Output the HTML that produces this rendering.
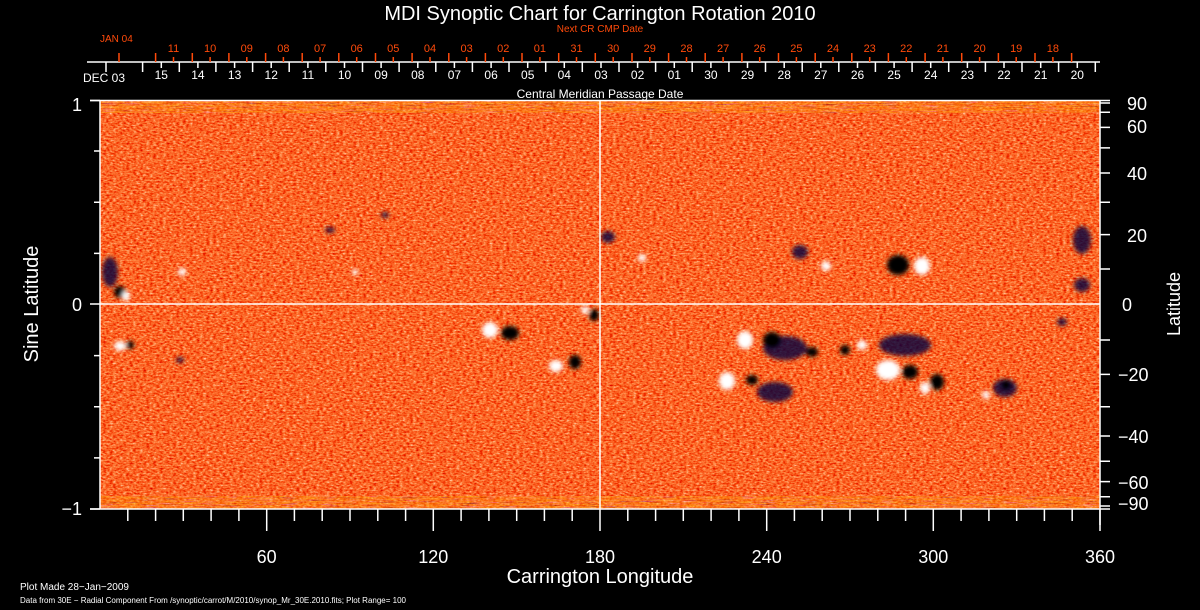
<!DOCTYPE html>
<html><head><meta charset="utf-8"><style>
html,body{margin:0;padding:0;background:#000;}
svg{display:block;}
text{font-family:"Liberation Sans",sans-serif;}
</style></head><body>
<svg width="1200" height="610" viewBox="0 0 1200 610" xmlns="http://www.w3.org/2000/svg">
<defs>
<filter id="n" x="0" y="0" width="100%" height="100%">
<feTurbulence type="fractalNoise" baseFrequency="0.3 0.6" numOctaves="2" seed="3"/>
<feColorMatrix type="matrix" values="1 0 0 0 0 1 0 0 0 0 1 0 0 0 0 0 0 0 0 1"/>
<feComponentTransfer>
<feFuncR type="table" tableValues="0.55 0.75 0.9 0.97 1 1 1"/>
<feFuncG type="table" tableValues="0 0 0.04 0.13 0.26 0.5 0.95"/>
<feFuncB type="table" tableValues="0 0 0 0.02 0.06 0.3 0.8"/>
<feFuncA type="table" tableValues="1 1"/>
</feComponentTransfer>
</filter>
<filter id="p" x="0" y="0" width="100%" height="100%">
<feTurbulence type="fractalNoise" baseFrequency="0.05 0.9" numOctaves="2" seed="7"/>
<feColorMatrix type="matrix" values="1 0 0 0 0 1 0 0 0 0 0 0 1 0 0 0 0 0 0 1"/>
<feComponentTransfer>
<feFuncR type="table" tableValues="0 0.1 1 1 1 1"/>
<feFuncG type="table" tableValues="0 0 0.2 0.4 0.8 1"/>
<feFuncB type="table" tableValues="0.8 0.6 0 0 0.1 0.6"/>
</feComponentTransfer>
</filter>
<filter id="b"><feGaussianBlur stdDeviation="2"/></filter>
</defs>
<rect x="100" y="100" width="1000" height="409" fill="#ee3c12"/>
<rect x="100" y="100" width="1000" height="409" filter="url(#n)"/>
<rect x="100" y="101" width="1000" height="12" filter="url(#p)" opacity="0.4"/>
<rect x="100" y="496" width="1000" height="13" filter="url(#p)" opacity="0.4"/>
<!-- active regions -->
<g filter="url(#b)">
<g fill="#000040" opacity="0.8">
<ellipse cx="110" cy="272" rx="8" ry="15"/>
<ellipse cx="330" cy="230" rx="5" ry="3"/><ellipse cx="385" cy="215" rx="4" ry="3"/>
<ellipse cx="608" cy="237" rx="7" ry="6"/>
<ellipse cx="785" cy="348" rx="22" ry="12"/><ellipse cx="775" cy="392" rx="18" ry="10"/>
<ellipse cx="800" cy="252" rx="8" ry="7"/>
<ellipse cx="905" cy="345" rx="26" ry="11"/>
<ellipse cx="1005" cy="388" rx="12" ry="9"/>
<ellipse cx="1082" cy="240" rx="9" ry="14"/><ellipse cx="1082" cy="285" rx="8" ry="7"/>
<ellipse cx="1062" cy="322" rx="5" ry="4"/>
<ellipse cx="180" cy="360" rx="4" ry="3"/>
</g>
<g fill="#000">
<ellipse cx="120" cy="292" rx="6" ry="6"/>
<ellipse cx="130" cy="345" rx="4" ry="4"/>
<ellipse cx="510" cy="333" rx="9" ry="7"/>
<ellipse cx="575" cy="362" rx="6" ry="7"/><ellipse cx="594" cy="315" rx="5" ry="6"/>
<ellipse cx="772" cy="340" rx="9" ry="8"/><ellipse cx="812" cy="352" rx="6" ry="5"/>
<ellipse cx="752" cy="380" rx="6" ry="5"/>
<ellipse cx="898" cy="265" rx="11" ry="10"/>
<ellipse cx="910" cy="372" rx="8" ry="7"/><ellipse cx="937" cy="382" rx="7" ry="8"/>
<ellipse cx="845" cy="350" rx="5" ry="5"/>
<ellipse cx="1006" cy="385" rx="5" ry="5"/>
</g>
<g fill="#fff">
<ellipse cx="126" cy="296" rx="4" ry="5"/>
<ellipse cx="120" cy="346" rx="6" ry="5"/>
<ellipse cx="182" cy="272" rx="4" ry="4"/><ellipse cx="355" cy="272" rx="3" ry="3"/>
<ellipse cx="490" cy="330" rx="8" ry="8"/>
<ellipse cx="556" cy="366" rx="7" ry="6"/><ellipse cx="585" cy="310" rx="4" ry="4"/>
<ellipse cx="642" cy="258" rx="4" ry="4"/>
<ellipse cx="745" cy="340" rx="8" ry="9"/><ellipse cx="727" cy="381" rx="8" ry="9"/>
<ellipse cx="826" cy="266" rx="5" ry="5"/>
<ellipse cx="922" cy="266" rx="8" ry="9"/>
<ellipse cx="888" cy="370" rx="12" ry="10"/><ellipse cx="862" cy="345" rx="5" ry="5"/>
<ellipse cx="925" cy="388" rx="5" ry="6"/>
<ellipse cx="986" cy="395" rx="4" ry="4"/>
</g>
</g>
<!-- grid / frame -->
<g stroke="#fff" stroke-width="1.5" fill="none">
<path d="M90 100.5H1110M90 509H1110M100 100V509M1100 100V525M600 100V509M100 304H1100"/>
<path d="M90 100.5h10M90 304h10M90 509h10M94 151h6M94 202.3h6M94 253.4h6M94 355.6h6M94 406.8h6M94 457.9h6"/>
<path d="M1100 103h10M1100 112.3h10M1100 127.4h10M1100 147.9h10M1100 173h10M1100 202.3h10M1100 234.6h10M1100 269h10M1100 340h10M1100 374.4h10M1100 406.8h10M1100 436h10M1100 461.2h10M1100 481.6h10M1100 496.7h10M1100 506h10"/>
<path d="M127.8 509v12M155.6 509v12M183.3 509v12M211.1 509v12M238.9 509v12M266.7 509v22M294.4 509v12M322.2 509v12M350 509v12M377.8 509v12M405.6 509v12M433.3 509v22M461.1 509v12M488.9 509v12M516.7 509v12M544.4 509v12M572.2 509v12M600 509v22M627.8 509v12M655.6 509v12M683.3 509v12M711.1 509v12M738.9 509v12M766.7 509v22M794.4 509v12M822.2 509v12M850 509v12M877.8 509v12M905.6 509v12M933.3 509v22M961.1 509v12M988.9 509v12M1016.7 509v12M1044.4 509v12M1072.2 509v12M1100 509v22"/>
<path d="M87 62H1100"/>
<path d="M106 62v10M142.6 62v10M179.3 62v10M215.9 62v10M252.6 62v10M289.2 62v10M325.8 62v10M362.5 62v10M399.1 62v10M435.8 62v10M472.4 62v10M509 62v10M545.7 62v10M582.3 62v10M619 62v10M655.6 62v10M692.2 62v10M728.9 62v10M765.5 62v10M802.2 62v10M838.8 62v10M875.4 62v10M912.1 62v10M948.7 62v10M985.4 62v10M1022 62v10M1058.6 62v10M1095.3 62v10"/>
<path d="M161.3 62v6M197.9 62v6M234.6 62v6M271.2 62v6M307.9 62v6M344.5 62v6M381.1 62v6M417.8 62v6M454.4 62v6M491.1 62v6M527.7 62v6M564.3 62v6M601 62v6M637.6 62v6M674.3 62v6M710.9 62v6M747.5 62v6M784.2 62v6M820.8 62v6M857.5 62v6M894.1 62v6M930.7 62v6M967.4 62v6M1004 62v6M1040.7 62v6M1077.3 62v6"/>
</g>
<g stroke="#ff4a0a" stroke-width="1.5" fill="none">
<path d="M119 53v9M155.6 53v9M192.3 53v9M228.9 53v9M265.6 53v9M302.2 53v9M338.8 53v9M375.5 53v9M412.1 53v9M448.8 53v9M485.4 53v9M522 53v9M558.7 53v9M595.3 53v9M632 53v9M668.6 53v9M705.2 53v9M741.9 53v9M778.5 53v9M815.2 53v9M851.8 53v9M888.4 53v9M925.1 53v9M961.7 53v9M998.4 53v9M1035 53v9M1071.6 53v9"/>
<path d="M173.5 57v5M210.1 57v5M246.8 57v5M283.4 57v5M320.1 57v5M356.7 57v5M393.3 57v5M430 57v5M466.6 57v5M503.3 57v5M539.9 57v5M576.5 57v5M613.2 57v5M649.8 57v5M686.5 57v5M723.1 57v5M759.7 57v5M796.4 57v5M833 57v5M869.7 57v5M906.3 57v5M942.9 57v5M979.6 57v5M1016.2 57v5M1052.9 57v5"/>
</g>
<!-- text -->
<g fill="#fff">
<text x="600" y="20" font-size="20" text-anchor="middle">MDI Synoptic Chart for Carrington Rotation 2010</text>
<text x="600" y="98" font-size="12" text-anchor="middle">Central Meridian Passage Date</text>
<text x="83" y="82" font-size="12">DEC 03</text>
<g font-size="12" text-anchor="middle">
<text x="161.3" y="79">15</text><text x="197.9" y="79">14</text><text x="234.6" y="79">13</text><text x="271.2" y="79">12</text><text x="307.9" y="79">11</text><text x="344.5" y="79">10</text><text x="381.1" y="79">09</text><text x="417.8" y="79">08</text><text x="454.4" y="79">07</text><text x="491.1" y="79">06</text><text x="527.7" y="79">05</text><text x="564.3" y="79">04</text><text x="601" y="79">03</text><text x="637.6" y="79">02</text><text x="674.3" y="79">01</text><text x="710.9" y="79">30</text><text x="747.5" y="79">29</text><text x="784.2" y="79">28</text><text x="820.8" y="79">27</text><text x="857.5" y="79">26</text><text x="894.1" y="79">25</text><text x="930.7" y="79">24</text><text x="967.4" y="79">23</text><text x="1004" y="79">22</text><text x="1040.7" y="79">21</text><text x="1077.3" y="79">20</text>
</g>
<g font-size="18" text-anchor="end">
<text x="82" y="111">1</text><text x="82" y="311">0</text><text x="82" y="515">−1</text>
</g>
<g font-size="18">
<text x="1127" y="110">90</text><text x="1127" y="133">60</text><text x="1127" y="180">40</text><text x="1127" y="242">20</text><text x="1122" y="311">0</text><text x="1118" y="381">−20</text><text x="1118" y="443">−40</text><text x="1118" y="489">−60</text><text x="1118" y="510">−90</text>
</g>
<g font-size="18" text-anchor="middle">
<text x="266.7" y="563">60</text><text x="433.3" y="563">120</text><text x="600" y="563">180</text><text x="766.7" y="563">240</text><text x="933.3" y="563">300</text><text x="1100" y="563">360</text>
</g>
<text x="600" y="583" font-size="20" text-anchor="middle">Carrington Longitude</text>
<text transform="translate(38 304) rotate(-90)" font-size="20" text-anchor="middle">Sine Latitude</text>
<text transform="translate(1180 304) rotate(-90)" font-size="18" text-anchor="middle">Latitude</text>
<text x="20" y="590" font-size="10">Plot Made 28−Jan−2009</text>
<text x="20" y="603" font-size="8">Data from 30E − Radial Component From /synoptic/carrot/M/2010/synop_Mr_30E.2010.fits; Plot Range=  100</text>
</g>
<g fill="#ff4a0a">
<text x="600" y="32" font-size="10" text-anchor="middle">Next CR CMP Date</text>
<text x="100" y="42" font-size="10">JAN 04</text>
<g font-size="11" text-anchor="middle">
<text x="173.5" y="52">11</text><text x="210.1" y="52">10</text><text x="246.8" y="52">09</text><text x="283.4" y="52">08</text><text x="320.1" y="52">07</text><text x="356.7" y="52">06</text><text x="393.3" y="52">05</text><text x="430" y="52">04</text><text x="466.6" y="52">03</text><text x="503.3" y="52">02</text><text x="539.9" y="52">01</text><text x="576.5" y="52">31</text><text x="613.2" y="52">30</text><text x="649.8" y="52">29</text><text x="686.5" y="52">28</text><text x="723.1" y="52">27</text><text x="759.7" y="52">26</text><text x="796.4" y="52">25</text><text x="833" y="52">24</text><text x="869.7" y="52">23</text><text x="906.3" y="52">22</text><text x="942.9" y="52">21</text><text x="979.6" y="52">20</text><text x="1016.2" y="52">19</text><text x="1052.9" y="52">18</text>
</g>
</g>
</svg>
</body></html>
